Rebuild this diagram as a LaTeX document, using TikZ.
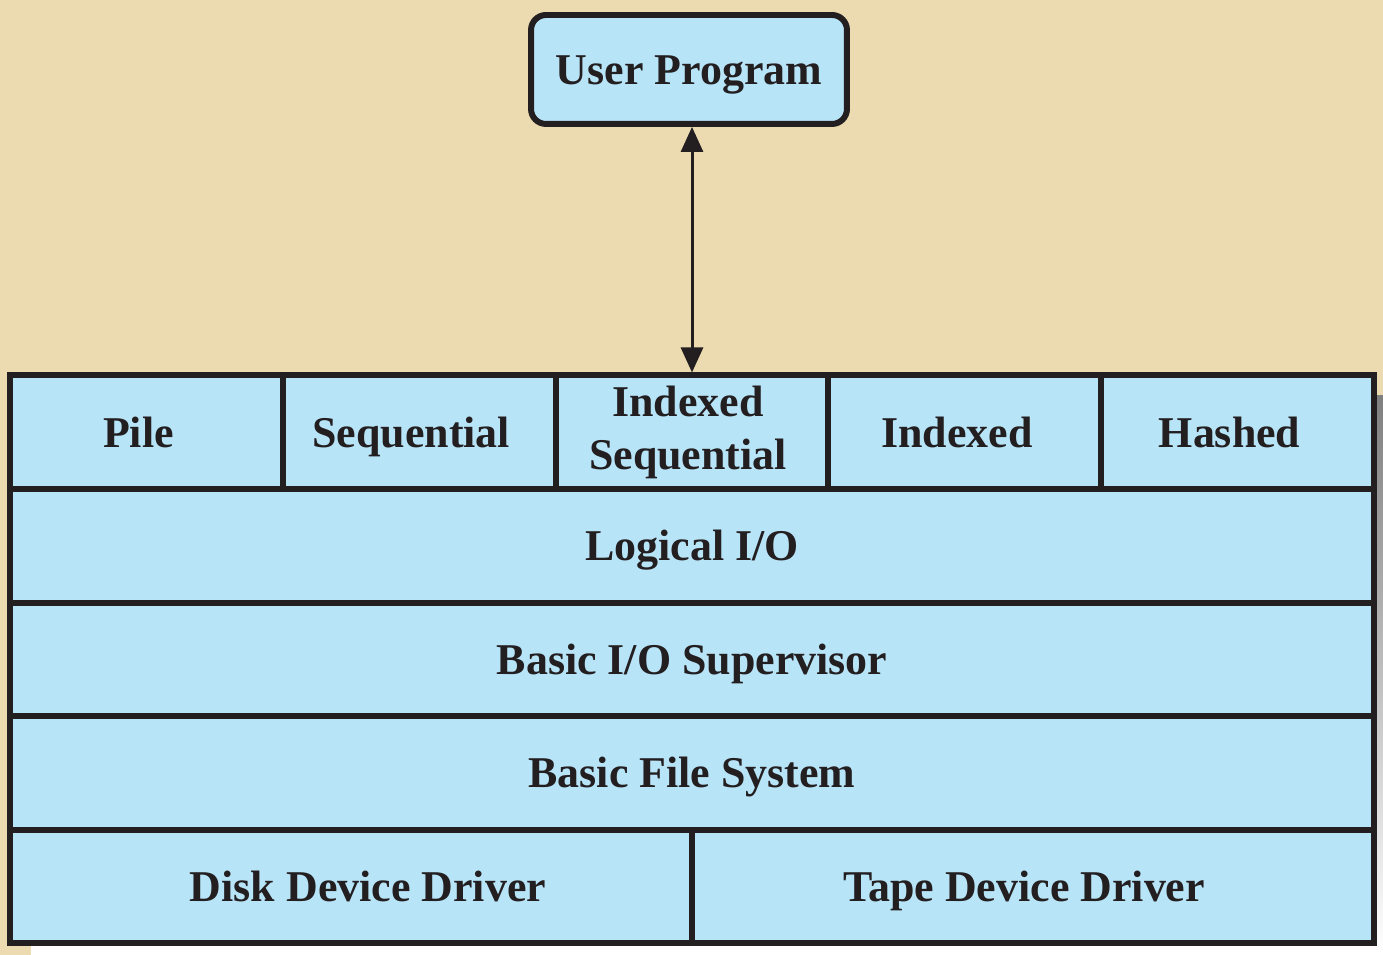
\documentclass[tikz,border=0pt]{standalone}
\usepackage{fontspec}
\setmainfont{Liberation Serif}
\usetikzlibrary{arrows.meta}
\definecolor{parch}{RGB}{236,219,176}
\definecolor{layerblue}{RGB}{184,228,248}
\definecolor{ink}{RGB}{35,31,32}
\definecolor{shade}{RGB}{128,128,130}
\tikzset{
  layer/.style={draw=ink, fill=layerblue, line width=3.4pt, inner sep=0pt,
    outer sep=0pt, text=ink, align=center,
    font=\fontsize{25}{30}\selectfont\bfseries},
  oneline/.style={text height=17pt, text depth=0pt},
  cell/.style={layer, minimum width=5.456cm, minimum height=2.272cm},
  band/.style={layer, oneline, minimum width=27.28cm, minimum height=2.272cm},
  half/.style={layer, oneline, minimum width=13.64cm, minimum height=2.272cm},
}
\begin{document}
\begin{tikzpicture}[x=0.02cm, y=0.02cm]
      \useasboundingbox (0,0) rectangle (1383,955);
      \fill[parch] (0,0) rectangle (1383,955);
      \fill[shade] (31,0) rectangle (1383,559);
      % file organisations
      \node[cell, oneline] (pile)   at (146.4,522.75) {Pile\hspace*{0.32cm}};
      \node[cell, oneline] (seq)    at (419.2,522.75) {Sequential\hspace*{0.32cm}};
      \node[cell]          (idxseq) at (692,522.75)   {Indexed\hspace*{0.16cm}\\Sequential\hspace*{0.16cm}};
      \node[cell, oneline] (idx)    at (964.8,522.75) {Indexed\hspace*{0.32cm}};
      \node[cell, oneline] (hash)   at (1237.6,522.75) {Hashed\hspace*{0.32cm}};
      % layers below
      \node[band] (logio)  at (692,409.2)    {Logical I/O};
      \node[band] (bios)   at (692,295.6)    {Basic I/O Supervisor};
      \node[band] (bfs)    at (692,182)      {Basic File System};
      \node[half] (disk)   at (351,68.3)     {\hspace*{0.68cm}Disk Device Driver};
      \node[half] (tape)   at (1033,68.3)    {Tape Device Driver\hspace*{0.36cm}};
      \node[layer, oneline, rounded corners=0.3cm, minimum width=6.32cm,
        minimum height=2.18cm] (user) at (689,885.5) {User Program};
      \draw[{Triangle[length=0.5cm,width=0.44cm]}-{Triangle[length=0.5cm,width=0.44cm]},
        draw=ink, fill=ink, line width=1.7pt, shorten <=1.7pt, shorten >=1.7pt]
        (user.south -| idxseq.north) -- (idxseq.north);
    \end{tikzpicture}
\end{document}
